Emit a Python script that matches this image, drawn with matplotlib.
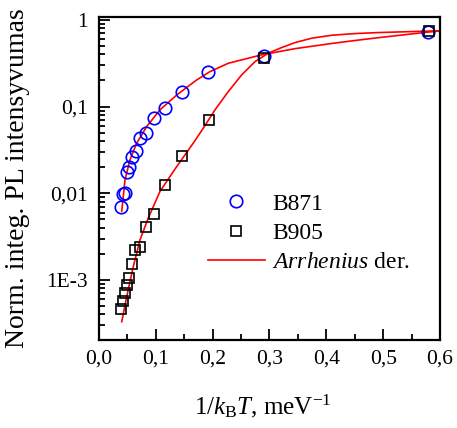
import matplotlib
matplotlib.use('Agg')
import matplotlib.pyplot as plt
from matplotlib.ticker import FixedLocator, FuncFormatter, LogLocator, MultipleLocator, NullFormatter

plt.rcParams['font.family'] = ['Liberation Serif', 'DejaVu Serif']
plt.rcParams['mathtext.fontset'] = 'custom'
plt.rcParams['mathtext.rm'] = 'Liberation Serif'
plt.rcParams['mathtext.it'] = 'Liberation Serif:italic'

# B871 measurements (1/kT in meV^-1, normalised integrated PL)
b871_x = [0.0387, 0.0430, 0.0457, 0.0498, 0.0528, 0.0587, 0.0646, 0.0727,
          0.0827, 0.0968, 0.1160, 0.1455, 0.1920, 0.2900, 0.5790]
b871_y = [0.0070, 0.0098, 0.0102, 0.0178, 0.0203, 0.0260, 0.0308, 0.0432,
          0.0502, 0.0735, 0.0974, 0.149, 0.253, 0.388, 0.733]

# B905 measurements
b905_x = [0.0387, 0.0422, 0.0457, 0.0493, 0.0528, 0.0587, 0.0634, 0.0722,
          0.0822, 0.0965, 0.1160, 0.1455, 0.1936, 0.2900, 0.5800]
b905_y = [0.00046, 0.000578, 0.000716, 0.000877, 0.00105, 0.00152, 0.00222,
          0.00243, 0.00413, 0.0058, 0.0126, 0.027, 0.0703, 0.361, 0.753]

# Arrhenius fit curves
fit871_x = [0.040, 0.0458, 0.0545, 0.0663, 0.0839, 0.1073, 0.1367, 0.1719,
            0.1953, 0.2275, 0.286, 0.345, 0.410, 0.450, 0.494, 0.547, 0.606]
fit871_y = [0.0062, 0.0143, 0.0243, 0.0378, 0.0588, 0.0916, 0.136, 0.203,
            0.253, 0.316, 0.395, 0.466, 0.535, 0.578, 0.626, 0.685, 0.755]

fit905_x = [0.040, 0.0487, 0.0604, 0.0722, 0.0868, 0.1073, 0.1337, 0.166,
            0.1835, 0.2041, 0.2275, 0.2511, 0.2745, 0.2979, 0.3215, 0.3449,
            0.3743, 0.4095, 0.450, 0.494, 0.547, 0.606]
fit905_y = [0.00033, 0.00064, 0.00143, 0.0029, 0.0052, 0.0105, 0.019, 0.038,
            0.0563, 0.0916, 0.149, 0.232, 0.330, 0.413, 0.480, 0.547,
            0.615, 0.665, 0.695, 0.715, 0.732, 0.752]

y_ticks = [1e-3, 1e-2, 1e-1, 1]
y_tick_labels = ['1E-3', '0,01', '0,1', '1']

fig = plt.figure(figsize=(4.57, 4.28), dpi=100)
ax = fig.add_axes([0.2166, 0.2056, 0.7462, 0.7547])

ax.plot(fit871_x, fit871_y, color='red', lw=1.2, label=r'$\mathit{Arrhenius}$ der.', zorder=2)
ax.plot(fit905_x, fit905_y, color='red', lw=1.2, zorder=2)
ax.plot(b871_x, b871_y, 'o', ms=9, mfc='none', mec='blue', mew=1.2, label='B871', zorder=3)
ax.plot(b905_x, b905_y, 's', ms=7.5, mfc='none', mec='black', mew=1.2, label='B905', zorder=3)

ax.set_yscale('log')
ax.set_xlim(0, 0.6)
ax.set_ylim(2.03e-4, 1.08)

ax.xaxis.set_major_locator(MultipleLocator(0.1))
ax.xaxis.set_minor_locator(MultipleLocator(0.05))
ax.xaxis.set_major_formatter(FuncFormatter(lambda v, p: f'{v:.1f}'.replace('.', ',')))

ax.yaxis.set_major_locator(FixedLocator(y_ticks))
ax.yaxis.set_major_formatter(FuncFormatter(lambda v, p: y_tick_labels[y_ticks.index(min(y_ticks, key=lambda t: abs(t - v)))]))
ax.yaxis.set_minor_locator(LogLocator(base=10, subs=range(2, 10)))
ax.yaxis.set_minor_formatter(NullFormatter())

ax.tick_params(which='both', direction='in', width=1.3, labelsize=15.5, top=False, right=False)
ax.tick_params(which='major', length=8)
ax.tick_params(which='minor', length=4.5)
ax.tick_params(axis='x', pad=7)
ax.tick_params(axis='y', pad=8)
for s in ax.spines.values():
    s.set_linewidth(1.6)

ax.set_xlabel(r'$1/k_\mathrm{B}T$, meV$^{-1}$', fontsize=18)
ax.set_ylabel('Norm. integ. PL intensyvumas', fontsize=20)
ax.xaxis.set_label_coords(0.48, -0.164)
ax.yaxis.set_label_coords(-0.202, 0.5)

handles, labels = ax.get_legend_handles_labels()
order = [1, 2, 0]
ax.legend([handles[i] for i in order], [labels[i] for i in order],
          loc='center left', bbox_to_anchor=(0.32, 0.331), frameon=False,
          fontsize=17, borderpad=0, handlelength=2.4, handletextpad=0.3,
          labelspacing=0.33, borderaxespad=0)

fig.savefig('out.png', dpi=100, facecolor='white')
